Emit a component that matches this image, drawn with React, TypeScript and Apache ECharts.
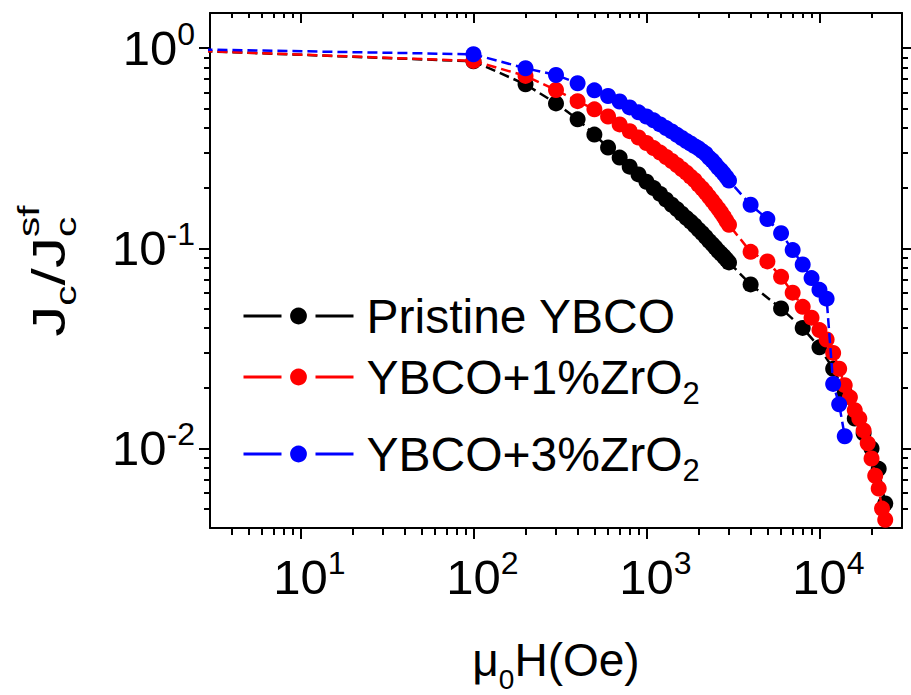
import React, { useEffect, useRef } from "react";
import * as echarts from "echarts";

const FONT = "'Liberation Sans', Arial, Helvetica, sans-serif";

// Applied field (Oe) and normalised critical current density for each film
const fieldPristine = [
  1, 100, 200, 300, 400, 500, 600, 700, 800, 900, 1000, 1100, 1200, 1300, 1400,
  1500, 1600, 1700, 1800, 1900, 2000, 2100, 2200, 2300, 2400, 2500, 2600, 2700,
  2800, 2900, 3000, 4000, 6000, 8000, 10000, 12000, 14000, 16000, 18000, 20000,
  22000, 24000,
];
const jcPristine = [
  1.0, 0.86, 0.66, 0.53, 0.441, 0.37, 0.319, 0.284, 0.256, 0.234, 0.215, 0.2,
  0.187, 0.175, 0.165, 0.157, 0.149, 0.142, 0.136, 0.13, 0.124, 0.119, 0.114,
  0.109, 0.105, 0.101, 0.097, 0.094, 0.091, 0.088, 0.085, 0.066, 0.05, 0.04,
  0.032, 0.025, 0.019, 0.0141, 0.0119, 0.01, 0.0079, 0.0053,
];

const fieldZr1 = [
  1, 100, 200, 300, 400, 500, 600, 700, 800, 900, 1000, 1100, 1200, 1300, 1400,
  1500, 1600, 1700, 1800, 1900, 2000, 2100, 2200, 2300, 2400, 2500, 2600, 2700,
  2800, 2900, 3000, 4000, 5000, 6000, 7000, 8000, 9000, 10000, 11000, 12000,
  13000, 14000, 15000, 16000, 17000, 18000, 19000, 20000, 21000, 22000, 23000,
  24000,
];
const jcZr1 = [
  1.0, 0.864, 0.727, 0.618, 0.544, 0.495, 0.456, 0.416, 0.385, 0.358, 0.336,
  0.317, 0.301, 0.286, 0.273, 0.261, 0.249, 0.239, 0.228, 0.219, 0.208, 0.199,
  0.19, 0.181, 0.173, 0.165, 0.158, 0.151, 0.144, 0.137, 0.131, 0.096, 0.086,
  0.072, 0.06, 0.051, 0.045, 0.039, 0.035, 0.03, 0.025, 0.0207, 0.018, 0.0155,
  0.0141, 0.0123, 0.0106, 0.0089, 0.0073, 0.0063, 0.005, 0.0044,
];

const fieldZr3 = [
  1, 100, 200, 300, 400, 500, 600, 700, 800, 900, 1000, 1100, 1200, 1300, 1400,
  1500, 1600, 1700, 1800, 1900, 2000, 2100, 2200, 2300, 2400, 2500, 2600, 2700,
  2800, 2900, 3000, 4000, 5000, 6000, 7000, 8000, 9000, 10000, 11000, 12000,
  13000, 14000,
];
const jcZr3 = [
  1.0, 0.933, 0.794, 0.735, 0.668, 0.616, 0.577, 0.542, 0.506, 0.478, 0.456,
  0.436, 0.416, 0.399, 0.384, 0.369, 0.356, 0.344, 0.334, 0.324, 0.316, 0.306,
  0.297, 0.284, 0.275, 0.264, 0.253, 0.245, 0.236, 0.227, 0.218, 0.165, 0.14,
  0.119, 0.098, 0.083, 0.071, 0.062, 0.056, 0.021, 0.0166, 0.0115,
];

const seriesNames = ["Pristine YBCO", "YBCO+1%ZrO2", "YBCO+3%ZrO2"];
const seriesColors = ["#000000", "#ff0000", "#0000ff"];

// Axis ranges and tick positions
const xRange = [3, 30000];
const yRange = [0.004, 1.5];
const xMajorTicks = [10, 100, 1000, 10000];
const xMinorTicks = [
  4, 5, 6, 7, 8, 9, 20, 30, 40, 50, 60, 70, 80, 90, 200, 300, 400, 500, 600,
  700, 800, 900, 2000, 3000, 4000, 5000, 6000, 7000, 8000, 9000, 20000,
];
const yMajorTicks = [0.01, 0.1, 1];
const yMinorTicks = [
  0.005, 0.006, 0.007, 0.008, 0.009, 0.02, 0.03, 0.04, 0.05, 0.06, 0.07, 0.08,
  0.09, 0.2, 0.3, 0.4, 0.5, 0.6, 0.7, 0.8, 0.9,
];

const legendRowTops = [292, 353, 430];

const powerLabel = (v: number) => {
  const e = Math.round(Math.log10(v));
  return `{b|10}{s|${e}}`;
};

const legendLabel = (name: string) => {
  if (name.endsWith("ZrO2")) {
    return `{t|${name.slice(0, -1)}}{u|2}`;
  }
  return `{t|${name}}`;
};

const toPairs = (xs: number[], ys: number[]) => xs.map((x, i) => [x, ys[i]]);

const axisBase = (extra: any) => ({
  type: "log",
  logBase: 10,
  splitLine: { show: false },
  axisLine: { show: false },
  axisLabel: { show: false },
  axisTick: { show: false },
  ...extra,
});

const frameLine = { show: true, lineStyle: { color: "#000", width: 2 } };

const tickStyle = (values: number[], length: number, inside: boolean) => ({
  show: true,
  customValues: values,
  length,
  inside,
  lineStyle: { color: "#000", width: 2 },
});

const titleText = (text: string, x: number, y: number, size: number) => ({
  type: "text",
  x,
  y,
  style: { text, font: `${size}px ${FONT}`, fill: "#000", verticalAlign: "middle", align: "left" },
});

export default function App() {
  const ref = useRef<HTMLDivElement>(null);

  useEffect(() => {
    if (!ref.current) return;
    const chart = echarts.init(ref.current, undefined, { renderer: "svg" });

    const xCommon = { min: xRange[0], max: xRange[1] };
    const yCommon = { min: yRange[0], max: yRange[1] };

    const option: any = {
      animation: false,
      backgroundColor: "#ffffff",
      grid: {
        left: 210,
        right: 9,
        top: 13,
        bottom: 167,
        containLabel: false,
        outerBoundsMode: "none",
      },
      xAxis: [
        axisBase({
          ...xCommon,
          position: "bottom",
          axisLine: frameLine,
          axisTick: tickStyle(xMajorTicks, 11, false),
          axisLabel: {
            show: true,
            customValues: xMajorTicks,
            margin: 19,
            formatter: powerLabel,
            color: "#000",
            rich: {
              b: { fontFamily: FONT, fontSize: 49, lineHeight: 60, padding: [0, 0, 0, 18], color: "#000" },
              s: { fontFamily: FONT, fontSize: 32, lineHeight: 30, verticalAlign: "top", color: "#000" },
            },
          },
          name: "{m|μ}{d|0}{m|H(Oe)}",
          nameLocation: "middle",
          nameGap: 99,
          nameTextStyle: {
            rich: {
              m: { fontFamily: FONT, fontSize: 46, lineHeight: 66, color: "#000" },
              d: { fontFamily: FONT, fontSize: 28, lineHeight: 34, verticalAlign: "bottom", color: "#000" },
            },
          },
        }),
        axisBase({ ...xCommon, position: "bottom", axisTick: tickStyle(xMinorTicks, 7, false) }),
        axisBase({
          ...xCommon,
          position: "top",
          axisLine: frameLine,
          axisTick: tickStyle(xMajorTicks, 10, true),
        }),
        axisBase({ ...xCommon, position: "top", axisTick: tickStyle(xMinorTicks, 5, true) }),
      ],
      yAxis: [
        axisBase({
          ...yCommon,
          position: "left",
          axisLine: frameLine,
          axisTick: tickStyle(yMajorTicks, 11, false),
          axisLabel: {
            show: true,
            customValues: yMajorTicks,
            margin: 15,
            formatter: powerLabel,
            color: "#000",
            rich: {
              b: { fontFamily: FONT, fontSize: 49, lineHeight: 60, color: "#000" },
              s: { fontFamily: FONT, fontSize: 32, lineHeight: 30, verticalAlign: "top", color: "#000" },
            },
          },
        }),
        axisBase({ ...yCommon, position: "left", axisTick: tickStyle(yMinorTicks, 6, false) }),
        axisBase({
          ...yCommon,
          position: "right",
          axisLine: frameLine,
          axisTick: tickStyle(yMajorTicks, 9, false),
        }),
        axisBase({ ...yCommon, position: "right", axisTick: tickStyle(yMinorTicks, 6, false) }),
      ],
      legend: seriesNames.map((n, i) => ({
        data: [n],
        left: 242,
        top: legendRowTops[i],
        padding: 0,
        orient: "vertical",
        itemWidth: 110,
        itemHeight: 21,
        selectedMode: false,
        lineStyle: { type: [38, 34], width: 3 },
        formatter: legendLabel,
        textStyle: {
          color: "#000",
          rich: {
            t: { fontFamily: FONT, fontSize: 48, lineHeight: 64, padding: [0, 0, 0, 8], color: "#000" },
            u: { fontFamily: FONT, fontSize: 31, lineHeight: 24, verticalAlign: "bottom", color: "#000" },
          },
        },
      })),
      graphic: [
        {
          // Rotated y-axis title J_c / J_c^sf, stretched along its reading direction
          type: "group",
          x: 49,
          y: 272,
          rotation: Math.PI / 2,
          scaleX: 1.35,
          children: [
            titleText("J", -48, 0, 46),
            titleText("c", -25, 17, 30),
            titleText("/", -10, 0, 46),
            titleText("J", 3, 0, 46),
            titleText("c", 26, 17, 30),
            titleText("sf", 26, -20, 30),
          ],
        },
      ],
      series: [
        [fieldPristine, jcPristine],
        [fieldZr1, jcZr1],
        [fieldZr3, jcZr3],
      ].map(([xs, ys], i) => ({
        name: seriesNames[i],
        type: "line",
        xAxisIndex: 0,
        yAxisIndex: 0,
        data: toPairs(xs, ys),
        symbol: "circle",
        symbolSize: 16,
        showAllSymbol: true,
        clip: true,
        itemStyle: { color: seriesColors[i] },
        lineStyle: { color: seriesColors[i], width: 2.5, type: [10, 5] },
        emphasis: { disabled: true },
        z: 2 + i,
      })),
    };

    chart.setOption(option);
    return () => chart.dispose();
  }, []);

  return (
    <div
      ref={ref}
      style={{ position: "fixed", left: 0, top: 0, width: 911, height: 695, background: "#fff" }}
    />
  );
}
